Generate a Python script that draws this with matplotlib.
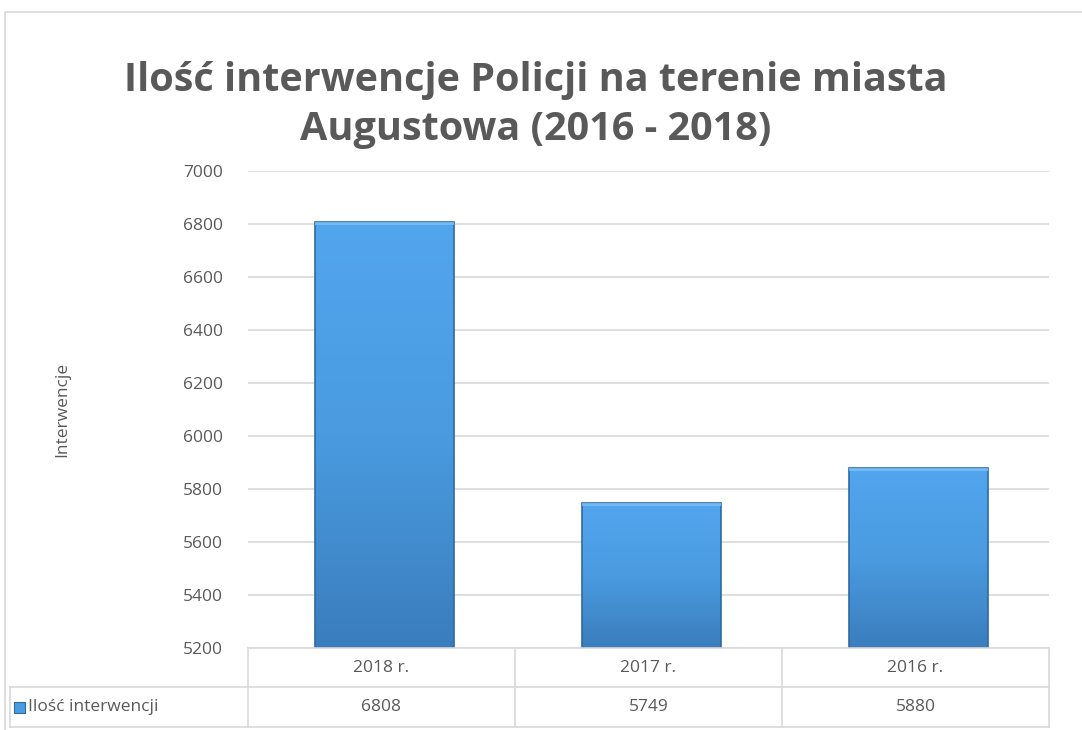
import matplotlib.pyplot as plt
import numpy as np
from matplotlib.patches import Rectangle
from matplotlib.colors import LinearSegmentedColormap

# data
years = ['2018 r.', '2017 r.', '2016 r.']
values = [6808, 5749, 5880]
series_name = 'Ilość interwencji'
y_ticks = [5200, 5400, 5600, 5800, 6000, 6200, 6400, 6600, 6800, 7000]

W, H = 1082, 730
fig = plt.figure(figsize=(W / 100, H / 100), dpi=100)
plt.rcParams['font.family'] = ['Open Sans', 'DejaVu Sans']
grey = '#595959'
line_c = '#d9d9d9'

# chart frame
fig.add_artist(Rectangle((5 / W, -0.01), 1.0, (730 - 12) / H + 0.01, transform=fig.transFigure,
                         fill=False, edgecolor=line_c, lw=1.2))

x0, x1, ytop, ybot = 248, 1049, 171, 648
ax = fig.add_axes([x0 / W, (H - ybot) / H, (x1 - x0) / W, (ybot - ytop) / H])
ax.set_xlim(0, 3)
ax.set_ylim(5200, 7000)
ax.set_yticks(y_ticks)
ax.set_xticks([])
ax.grid(axis='y', color=line_c, lw=1.2)
ax.set_axisbelow(True)
for s in ax.spines.values():
    s.set_visible(False)
ax.tick_params(axis='y', length=0, labelsize=12.5, labelcolor=grey, pad=18)
ax.set_ylabel('Interwencje', fontsize=12.5, color=grey)
ax.yaxis.set_label_coords((70 - x0) / (x1 - x0), 0.5)

cmap = LinearSegmentedColormap.from_list('bar', ['#3a7dbd', '#4a9be0', '#52a6ee'])
grad = np.linspace(0, 1, 256).reshape(-1, 1)
bw = 0.52
for i, v in enumerate(values):
    left = i + 0.5 - bw / 2 + 0.01
    im = ax.imshow(grad, cmap=cmap, aspect='auto', origin='lower',
                   extent=[left, left + bw, 5200, v], zorder=2)
    r = Rectangle((left, 5200), bw, v - 5200, facecolor='none', edgecolor='#2e6aa3', lw=1.2, zorder=3)
    ax.add_patch(r)
    im.set_clip_path(r)
    # light bevel at top
    ax.add_patch(Rectangle((left, v - 12), bw, 12, facecolor='#7cc0f5', edgecolor='none', zorder=3, alpha=0.8))

# data table below the axis
rows = [648, 687, 727]
cols = [x0, x0 + (x1 - x0) / 3, x0 + 2 * (x1 - x0) / 3, x1]
fx = lambda px: px / W
fy = lambda py: (H - py) / H
for ry in rows:
    xs = x0 if ry == rows[0] else 10
    fig.add_artist(plt.Line2D([fx(xs), fx(x1)], [fy(ry), fy(ry)], color=line_c, lw=1.2))
for cx in cols:
    fig.add_artist(plt.Line2D([fx(cx), fx(cx)], [fy(rows[0]), fy(rows[2])], color=line_c, lw=1.2))
fig.add_artist(plt.Line2D([fx(10), fx(10)], [fy(rows[1]), fy(rows[2])], color=line_c, lw=1.2))
for i in range(3):
    cx = (cols[i] + cols[i + 1]) / 2
    fig.text(fx(cx), fy((rows[0] + rows[1]) / 2), years[i], ha='center', va='center', fontsize=12.5, color=grey)
    fig.text(fx(cx), fy((rows[1] + rows[2]) / 2), str(values[i]), ha='center', va='center', fontsize=12.5, color=grey)
fig.add_artist(Rectangle((fx(14), fy(713)), 11 / W, 11 / H, transform=fig.transFigure,
                         facecolor='#4a9be0', edgecolor='#2e6aa3', lw=0.8))
fig.text(fx(28), fy(707), series_name, ha='left', va='center', fontsize=12.5, color=grey)

fig.text(0.495, fy(105), 'Ilość interwencje Policji na terenie miasta\nAugustowa (2016 - 2018)',
         ha='center', va='center', fontsize=28.5, fontweight='bold', color=grey, linespacing=1.32)

fig.savefig('out.png', dpi=100)
